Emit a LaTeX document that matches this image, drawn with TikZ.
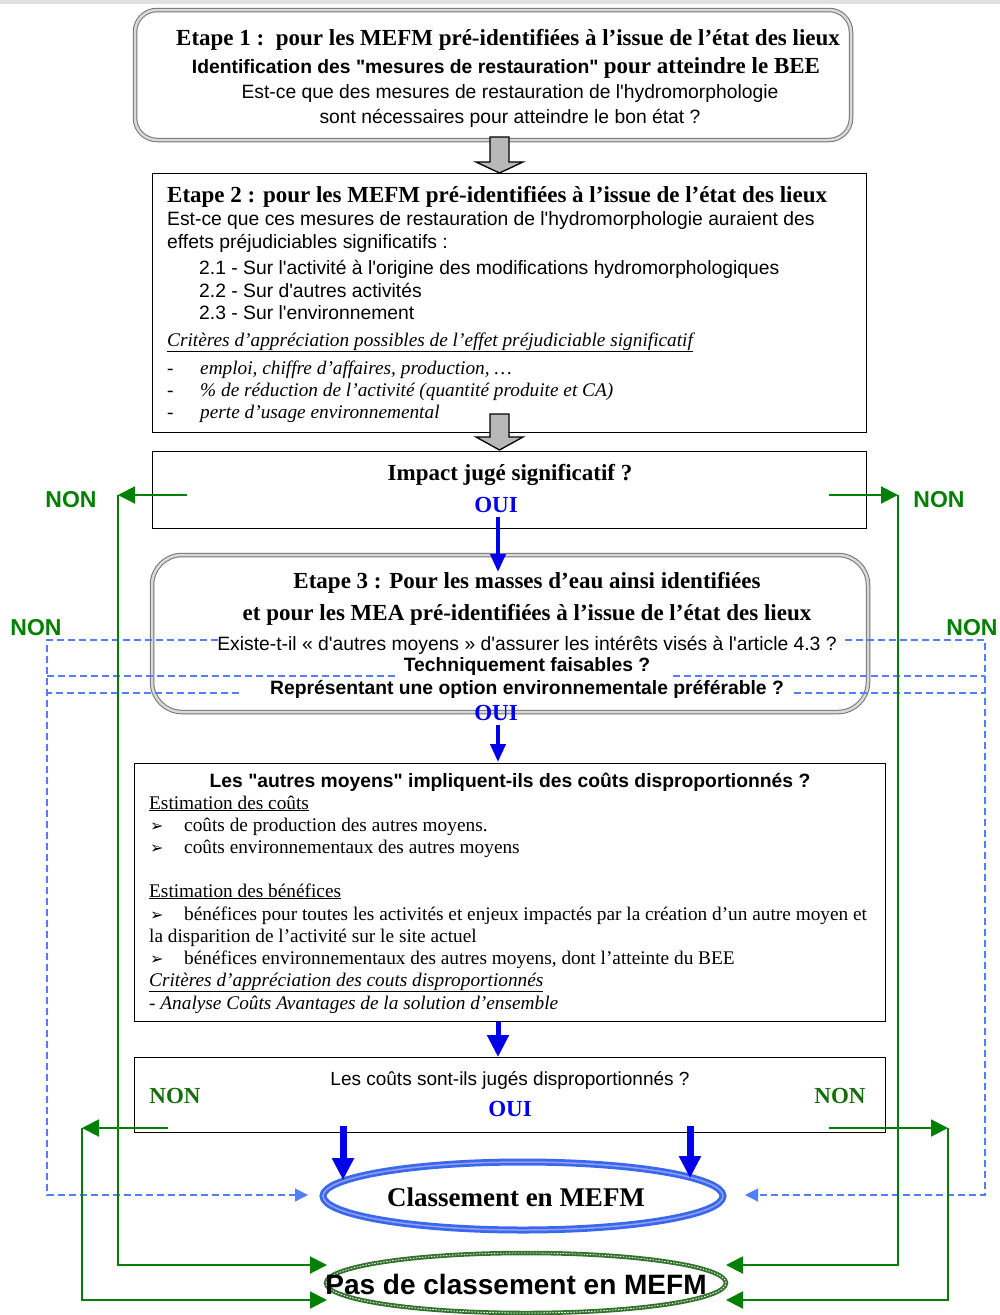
\documentclass[tikz,border=0pt]{standalone}
\usepackage{fontspec}
\setmainfont{Liberation Serif}
\setsansfont{Liberation Sans}[Ligatures=TeXOff]
\newfontfamily\symf{DejaVu Sans}
\usetikzlibrary{arrows.meta,shapes.geometric,calc}
\definecolor{ngreen}{RGB}{0,128,0}
\definecolor{ogreen}{RGB}{20,110,10}
\definecolor{oblue}{RGB}{0,0,235}
\definecolor{dblue}{RGB}{85,125,255}
\definecolor{eblue}{RGB}{55,105,235}
\newcommand\fEt{\rmfamily\bfseries\fontsize{23}{26}\selectfont}
\newcommand\fSa{\sffamily\fontsize{19.3}{22}\selectfont}
\newcommand\fSb{\sffamily\bfseries\fontsize{19.3}{22}\selectfont}
\newcommand\fIt{\rmfamily\itshape\fontsize{19.3}{22}\selectfont}
\newcommand\fRm{\rmfamily\fontsize{19.3}{22}\selectfont}
\newcommand\bul{{\symf\fontsize{16}{18}\selectfont ➢}}
\begin{document}
\begin{tikzpicture}[x=1pt,y=-1pt,
  box/.style={draw=black, line width=1pt, inner sep=0pt},
  rbox/.style={draw=black!55, line width=1pt, double=black!15, double distance=2.5pt, inner sep=0pt},
  tl/.style={inner sep=0pt, anchor=base west},
  tc/.style={inner sep=0pt, anchor=base},
  gline/.style={draw=ngreen, line width=2pt},
  garrow/.style={gline, -{Triangle[length=17pt,width=17pt]}},
  barrow/.style={draw=oblue, line width=4pt, -{Triangle[length=18pt,width=15pt]}},
  bbarrow/.style={draw=oblue, line width=7pt, -{Triangle[length=22pt,width=21pt]}},
  dline/.style={draw=dblue, line width=1.2pt, dash pattern=on 7pt off 4pt},
  darrow/.style={dline, -{Triangle[length=13pt,width=13pt]}},
  blockarrow/.style={draw=black, line width=1.3pt, fill=black!28, line join=miter},
  non/.style={inner sep=0pt, text=ngreen, font=\sffamily\bfseries\fontsize{23}{26}\selectfont},
  nonb/.style={inner sep=0pt, text=ogreen, font=\rmfamily\bfseries\fontsize{23}{26}\selectfont},
  oui/.style={inner sep=0pt, text=oblue, font=\rmfamily\bfseries\fontsize{23}{26}\selectfont}
]
\useasboundingbox (0,0) rectangle (1000,1315);
\fill[white] (0,0) rectangle (1000,1315);
\fill[black!12] (0,0) rectangle (1000,4);

% ---------- Box 1
\node[rbox, rounded corners=22pt, minimum width=716pt, minimum height=130pt] (b1) at (493,75) {};
\node[tl] (b1t1) at (176,45) {\fEt Etape 1 :\ \ pour les MEFM pré-identifiées à l’issue de l’état des lieux};
\node[tc] (b1t2) at (506,73) {\fSb Identification des "mesures de restauration" {\fEt pour atteindre le BEE}};
\node[tc] (b1t3) at (510,98) {\fSa Est-ce que des mesures de restauration de l'hydromorphologie};
\node[tc] (b1t4) at (510,123) {\fSa sont nécessaires pour atteindre le bon état ?};

% block arrow 1
\filldraw[blockarrow] (490,137) -- (509,137) -- (509,162) -- (523,162) -- (499.5,173) -- (476,162) -- (490,162) -- cycle;

% ---------- Box 2
\node[box, minimum width=714pt, minimum height=259pt] (b2) at (509,302.5) {};
\node[tl] (b2t1) at (167,202) {\fEt Etape 2 : pour les MEFM pré-identifiées à l’issue de l’état des lieux};
\node[tl] (b2t2) at (167,225) {\fSa Est-ce que ces mesures de restauration de l'hydromorphologie auraient des};
\node[tl] (b2t3) at (167,248) {\fSa effets préjudiciables significatifs :};
\node[tl] (b2t4) at (199,274) {\fSa 2.1 - Sur l'activité à l'origine des modifications hydromorphologiques};
\node[tl] (b2t5) at (199,297) {\fSa 2.2 - Sur d'autres activités};
\node[tl] (b2t6) at (199,319) {\fSa 2.3 - Sur l'environnement};
\node[tl] (b2t7) at (167,346) {\fIt \underline{Critères d’appréciation possibles de l’effet préjudiciable significatif}};
\node[tl] (b2d1) at (167,374) {\fIt -};
\node[tl] (b2d2) at (167,396) {\fIt -};
\node[tl] (b2d3) at (167,418) {\fIt -};
\node[tl] (b2t8) at (200,374) {\fIt emploi, chiffre d’affaires, production, \ldots};
\node[tl] (b2t9) at (200,396) {\fIt \% de réduction de l’activité (quantité produite et CA)};
\node[tl] (b2t10) at (200,418) {\fIt perte d’usage environnemental};

% block arrow 2
\filldraw[blockarrow] (490,414) -- (509,414) -- (509,437) -- (523,437) -- (499.5,450) -- (476,437) -- (490,437) -- cycle;

% ---------- Box 3
\node[box, minimum width=714pt, minimum height=77pt] (b3) at (509,489.5) {};
\node[tc] (b3t1) at (510,480) {\fEt Impact jugé significatif ?};
\node[oui] (oui1) at (496,505) {OUI};
\node[non] (non1) at (71,500) {NON};
\node[non] (non2) at (939,500) {NON};

% ---------- Box 4 (Etape 3)
\node[rbox, rounded corners=30pt, minimum width=716pt, minimum height=157pt] (b4) at (510,633.5) {};
\node[tc] (b4t1) at (527,588) {\fEt Etape 3 : Pour les masses d’eau ainsi identifiées};
\node[tc] (b4t2) at (527,620) {\fEt et pour les MEA pré-identifiées à l’issue de l’état des lieux};
\node[tc] (b4t3) at (527,650) {\fSa Existe-t-il « d'autres moyens » d'assurer les intérêts visés à l'article 4.3 ?};
\node[tc] (b4t4) at (527,671) {\fSb Techniquement faisables ?};
\node[tc] (b4t5) at (527,694) {\fSb Représentant une option environnementale préférable ?};
\node[oui] (oui2) at (496,713) {OUI};
\node[non] (non3) at (36,628) {NON};
\node[non] (non4) at (972,628) {NON};

% ---------- Box 5
\node[box, minimum width=751pt, minimum height=258pt] (b5) at (509.5,892) {};
\node[tc] (b5t1) at (510,787) {\fSb Les "autres moyens" impliquent-ils des coûts disproportionnés ?};
\node[tl] (b5t2) at (149,809) {\fRm \underline{Estimation des coûts}};
\node[tl] (b5b1) at (150,831) {\bul};
\node[tl] (b5t3) at (184,831) {\fRm coûts de production des autres moyens.};
\node[tl] (b5b2) at (150,853) {\bul};
\node[tl] (b5t4) at (184,853) {\fRm coûts environnementaux des autres moyens};
\node[tl] (b5t5) at (149,897) {\fRm \underline{Estimation des bénéfices}};
\node[tl] (b5b3) at (150,920) {\bul};
\node[tl] (b5t6) at (184,920) {\fRm bénéfices pour toutes les activités et enjeux impactés par la création d’un autre moyen et};
\node[tl] (b5t7) at (149,942) {\fRm la disparition de l’activité sur le site actuel};
\node[tl] (b5b4) at (150,964) {\bul};
\node[tl] (b5t8) at (184,964) {\fRm bénéfices environnementaux des autres moyens, dont l’atteinte du BEE};
\node[tl] (b5t9) at (149,986) {\fIt \underline{Critères d’appréciation des couts disproportionnés}};
\node[tl] (b5t10) at (149,1009) {\fIt - Analyse Coûts Avantages de la solution d’ensemble};

% ---------- Box 6
\node[box, minimum width=751pt, minimum height=75pt] (b6) at (509.5,1094.5) {};
\node[tc] (b6t1) at (510,1085) {\sffamily\fontsize{19}{21}\selectfont Les coûts sont-ils jugés disproportionnés ?};
\node[nonb] (non5) at (175,1096) {NON};
\node[nonb] (non6) at (840,1096) {NON};
\node[oui] (oui3) at (510,1109) {OUI};

% ---------- Ellipses
\node[ellipse, draw=eblue, line width=7pt, minimum width=400pt, minimum height=68pt, inner sep=0pt] (e1) at (523,1196) {};
\draw[blue!40!white, line width=1.5pt] (e1.center) ellipse (200pt and 34pt);
\node[tc] (e1t) at (516,1206) {\rmfamily\bfseries\fontsize{27}{29}\selectfont Classement en MEFM};
\node[ellipse, draw=ogreen!70!gray, line width=4.5pt, minimum width=400pt, minimum height=60pt, inner sep=0pt] (e2) at (526,1283) {};
\draw[white, line width=0.8pt, dash pattern=on 1.5pt off 1.5pt] (e2.center) ellipse (200pt and 30pt);
\node[tc] (e2t) at (516,1294) {\sffamily\bfseries\fontsize{28}{30}\selectfont Pas de classement en MEFM};

% ---------- coordinates
\coordinate (gL1s) at (187,495); \coordinate (gL1) at (118,495); \coordinate (gL1b) at (118,1265); \coordinate (gL1e) at (327,1265);
\coordinate (gR1s) at (829,495); \coordinate (gR1) at (898,495); \coordinate (gR1b) at (898,1265); \coordinate (gR1e) at (726,1265);
\coordinate (gL2s) at (168,1128); \coordinate (gL2) at (82,1128); \coordinate (gL2b) at (82,1300); \coordinate (gL2e) at (327,1300);
\coordinate (gR2s) at (829,1128); \coordinate (gR2) at (948,1128); \coordinate (gR2b) at (948,1300); \coordinate (gR2e) at (726,1300);

\coordinate (dL1s) at (218,640); \coordinate (dL1) at (47,640); \coordinate (dL1b) at (47,1195); \coordinate (dL1e) at (308,1195);
\coordinate (dL2s) at (395,676); \coordinate (dL2) at (47,676);
\coordinate (dL3s) at (239,693); \coordinate (dL3) at (47,693);
\coordinate (dR1s) at (845,640); \coordinate (dR1) at (985,640); \coordinate (dR1b) at (985,1195); \coordinate (dR1e) at (745,1195);
\coordinate (dR2s) at (673,676); \coordinate (dR2) at (985,676);
\coordinate (dR3s) at (794,693); \coordinate (dR3) at (985,693);

\coordinate (o1s) at (498,517); \coordinate (o1e) at (498,572);
\coordinate (o2s) at (498,725); \coordinate (o2e) at (498,762);
\coordinate (o3s) at (498,1022); \coordinate (o3e) at (498,1057);
\coordinate (y1s) at (343,1126); \coordinate (y1e) at (343,1180);
\coordinate (y2s) at (690,1126); \coordinate (y2e) at (690,1178);

% ---------- dashed blue
\draw[darrow] (dL1s) -- (dL1) -- (dL1b) -- (dL1e);
\draw[dline] (dL2s) -- (dL2);
\draw[dline] (dL3s) -- (dL3);
\draw[darrow] (dR1s) -- (dR1) -- (dR1b) -- (dR1e);
\draw[dline] (dR2s) -- (dR2);
\draw[dline] (dR3s) -- (dR3);

% ---------- green
\draw[garrow] (gL1s) -- (gL1);
\draw[garrow] (gL1) -- (gL1b) -- (gL1e);
\draw[garrow] (gR1s) -- (gR1);
\draw[garrow] (gR1) -- (gR1b) -- (gR1e);
\draw[garrow] (gL2s) -- (gL2);
\draw[garrow] (gL2) -- (gL2b) -- (gL2e);
\draw[garrow] (gR2s) -- (gR2);
\draw[garrow] (gR2) -- (gR2b) -- (gR2e);

% ---------- blue
\draw[barrow] (o1s) -- (o1e);
\draw[barrow] (o2s) -- (o2e);
\draw[bbarrow, line width=5pt] (o3s) -- (o3e);
\draw[bbarrow] (y1s) -- (y1e);
\draw[bbarrow] (y2s) -- (y2e);
\end{tikzpicture}
\end{document}
